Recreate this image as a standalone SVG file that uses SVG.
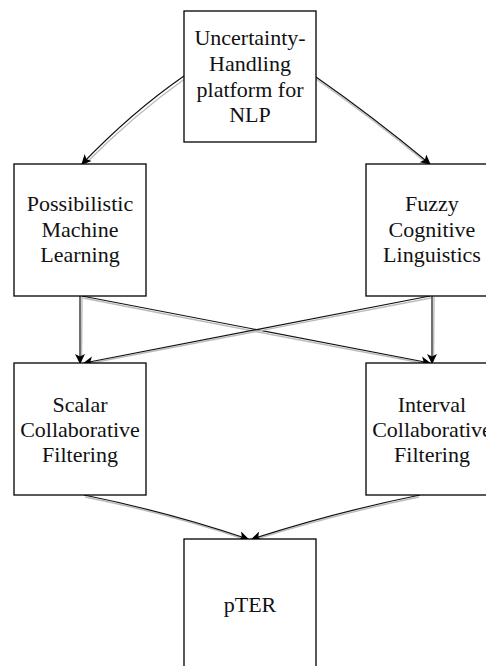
<svg xmlns="http://www.w3.org/2000/svg" width="486" height="666" viewBox="0 0 486 666">
<style>
.box{fill:#fff;stroke:#000;stroke-width:1.3}
.t{font-family:"Liberation Serif","Times New Roman",serif;font-size:22px;fill:#111;text-anchor:middle}
.c{fill:none;stroke:#111;stroke-width:1.2}
.s{fill:none;stroke:#bbb;stroke-width:1.4}
</style>
<defs>
<marker id="ah" viewBox="0 0 10 10" refX="9" refY="5" markerWidth="10" markerHeight="10" markerUnits="userSpaceOnUse" orient="auto">
<path d="M0,0 L10,5 L0,10 L2.5,5 z" fill="#000"/>
</marker>
</defs>
<rect width="486" height="666" fill="#fff"/>
<g id="connectors">
<path class="s" d="M186,78 Q135,114 85,164"/>
<path class="c" d="M184,76 Q132,112 82,164" marker-end="url(#ah)"/>
<path class="s" d="M316,79 Q372,118 429,165"/>
<path class="c" d="M316,77 Q372,116 430,164" marker-end="url(#ah)"/>
<path class="s" d="M82,297 L81.5,362"/>
<path class="c" d="M80,296 L80,363" marker-end="url(#ah)"/>
<path class="s" d="M83,298 Q256,332 428,364"/>
<path class="c" d="M82,296 Q256,330 430,363" marker-end="url(#ah)"/>
<path class="s" d="M434,297 L433.5,362"/>
<path class="c" d="M432,296 L432,363" marker-end="url(#ah)"/>
<path class="s" d="M431,298 Q256,332 86,364"/>
<path class="c" d="M430,296 Q256,330 84,363" marker-end="url(#ah)"/>
<path class="s" d="M85,497 Q170,514 247,540"/>
<path class="c" d="M84,495 Q168,512 248,539" marker-end="url(#ah)"/>
<path class="s" d="M419,497 Q336,514 253,540"/>
<path class="c" d="M420,495 Q336,512 252,539" marker-end="url(#ah)"/>
</g>
<g id="n_top">
<rect class="box" x="184" y="11" width="132" height="131"/>
<text class="t" x="250" y="45">Uncertainty-</text>
<text class="t" x="250" y="71">Handling</text>
<text class="t" x="250" y="97">platform for</text>
<text class="t" x="250" y="122">NLP</text>
</g>
<g id="n_pml">
<rect class="box" x="14" y="164" width="132" height="132"/>
<text class="t" x="80" y="211">Possibilistic</text>
<text class="t" x="80" y="237">Machine</text>
<text class="t" x="80" y="262">Learning</text>
</g>
<g id="n_fcl">
<rect class="box" x="366" y="164" width="132" height="132"/>
<text class="t" x="432" y="211">Fuzzy</text>
<text class="t" x="432" y="237">Cognitive</text>
<text class="t" x="432" y="262">Linguistics</text>
</g>
<g id="n_scf">
<rect class="box" x="14" y="363" width="132" height="132"/>
<text class="t" x="80" y="412">Scalar</text>
<text class="t" x="80" y="437">Collaborative</text>
<text class="t" x="80" y="462">Filtering</text>
</g>
<g id="n_icf">
<rect class="box" x="366" y="363" width="132" height="132"/>
<text class="t" x="432" y="412">Interval</text>
<text class="t" x="432" y="437">Collaborative</text>
<text class="t" x="432" y="462">Filtering</text>
</g>
<g id="n_pter">
<rect class="box" x="184" y="539" width="132" height="132"/>
<text class="t" x="250" y="612">pTER</text>
</g>
</svg>
